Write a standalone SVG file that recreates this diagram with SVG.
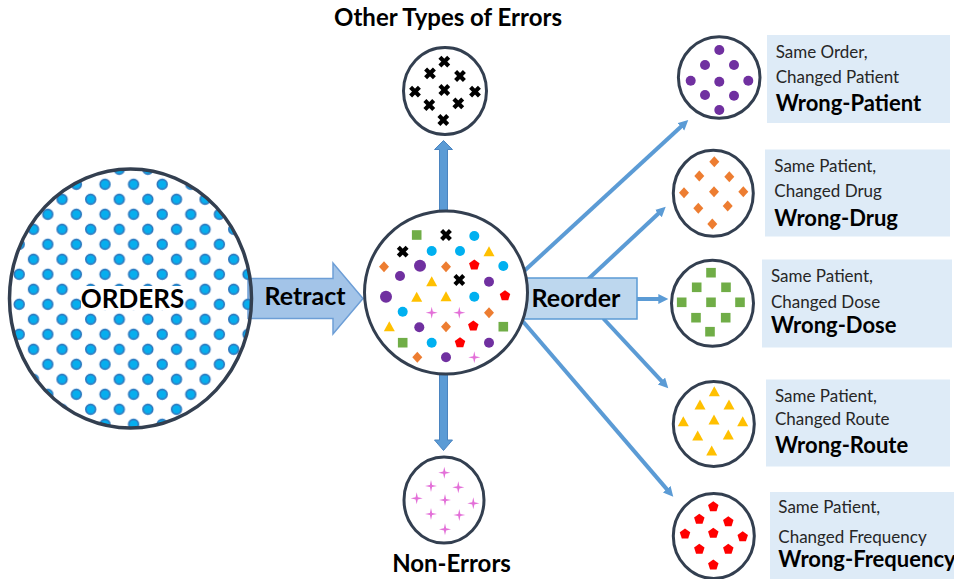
<svg xmlns="http://www.w3.org/2000/svg" xmlns:xlink="http://www.w3.org/1999/xlink" width="954" height="579" viewBox="0 0 954 579">
<style>
.ring{fill:#fff;stroke:#333F50;stroke-width:3}
.big{font-family:Lato,"Liberation Sans",sans-serif;font-weight:700;fill:#000}
.lab{font-family:Lato,"Liberation Sans",sans-serif;font-size:17px;fill:#262626}
.ttl{font-family:Lato,"Liberation Sans",sans-serif;font-weight:700;font-size:22px;fill:#000}
.box{fill:#DEEBF7}
.con{stroke:#5B9BD5;stroke-width:4;fill:none;marker-end:url(#ah)}
.fat{fill:#5B9BD5;stroke:#4A84C0;stroke-width:1}
</style>
<defs>
<pattern id="dots" patternUnits="userSpaceOnUse" x="97.85" y="176.8" width="28.6" height="30">
<circle cx="7.15" cy="7.5" r="4.9" fill="#06AEEE" stroke="#2E78BE" stroke-width="1.6"/>
<circle cx="21.45" cy="22.5" r="4.9" fill="#06AEEE" stroke="#2E78BE" stroke-width="1.6"/>
</pattern>
<marker id="ah" markerUnits="userSpaceOnUse" markerWidth="12" markerHeight="12" refX="3" refY="5" orient="auto">
<path d="M0,0 L10,5 L0,10 Z" fill="#5B9BD5"/>
</marker>
<path id="x" d="M-4.4,-4.4 L4.4,4.4 M4.4,-4.4 L-4.4,4.4" stroke="#000" stroke-width="4.2"/>
<path id="dm" d="M0,-5.5 L5,0 L0,5.5 L-5,0Z" fill="#ED7D31"/>
<path id="tr" d="M0,-5.5 L5.5,4.5 L-5.5,4.5Z" fill="#FFC000"/>
<rect id="sq" x="-4.8" y="-4.8" width="9.6" height="9.6" fill="#70AD47"/>
<path id="pg" d="M0,-5.5 L5.23,-1.7 L3.23,4.45 L-3.23,4.45 L-5.23,-1.7Z" fill="#FF0000"/>
<path id="st" d="M0,-6 L1.1,-1.1 L6,0 L1.1,1.1 L0,6 L-1.1,1.1 L-6,0 L-1.1,-1.1Z" fill="#E36FD8"/>
<circle id="c" r="5" fill="#00B0F0"/>
<circle id="p" r="5" fill="#7030A0"/>
<circle id="pL" r="6" fill="#7030A0"/>
</defs>
<rect width="954" height="579" fill="#fff"/>

<g id="connectors">
<line class="con" x1="521.7" y1="273.3" x2="683.1" y2="124.7"/>
<line class="con" x1="588.3" y1="279" x2="660.6" y2="211.5"/>
<line class="con" x1="636" y1="299" x2="661.3" y2="299"/>
<line class="con" x1="603.3" y1="318.5" x2="663.5" y2="383.2"/>
<line class="con" x1="521.7" y1="320" x2="668.7" y2="491.4"/>
<polygon class="fat" points="439.5,212 439.5,149.5 434.5,149.5 443.5,140.5 452.5,149.5 447.5,149.5 447.5,212"/>
<polygon class="fat" points="439.5,373 439.5,440 434.5,440 443.5,450.5 452.5,440 447.5,440 447.5,373"/>
</g>

<g id="retract">
<polygon points="248,278.5 333,278.5 333,263 363,298.5 333,334 333,318.5 248,318.5" fill="#A3C4E8" stroke="#6D9ED6" stroke-width="1.5"/>
<text class="big" x="305" y="305" font-size="25" text-anchor="middle">Retract</text>
</g>

<g id="reorder">
<rect x="515" y="278" width="122" height="41" fill="#BDD7EE" stroke="#5B9BD5" stroke-width="1.5"/>
<text class="big" x="576" y="307" font-size="25" text-anchor="middle">Reorder</text>
</g>

<g id="orders">
<ellipse cx="130.5" cy="298.5" rx="121" ry="129.5" fill="url(#dots)"/>
<rect x="81" y="286" width="102" height="24" fill="#fff"/>
<ellipse cx="130.5" cy="298.5" rx="121" ry="129.5" fill="none" stroke="#333F50" stroke-width="3.5"/>
<text class="big" x="132.5" y="308" font-size="26" text-anchor="middle">ORDERS</text>
</g>

<g id="mixed">
<circle class="ring" cx="446" cy="292.5" r="81.5"/>
<use href="#sq" x="416.7" y="235"/><use href="#x" x="446" y="235"/><use href="#c" x="474.3" y="236"/>
<use href="#x" x="402.7" y="251.7"/><use href="#c" x="431.7" y="251"/><use href="#c" x="460" y="251"/><use href="#tr" x="489" y="251.7"/>
<use href="#dm" x="384" y="266.7"/><use href="#pL" x="420" y="265.7"/><use href="#dm" x="446" y="266.7"/><use href="#pg" x="474.3" y="265"/><use href="#c" x="503.3" y="266"/>
<use href="#p" x="400" y="276"/><use href="#tr" x="431.7" y="281.7"/><use href="#x" x="459.3" y="280"/><use href="#p" x="489" y="281.7"/>
<use href="#pL" x="386" y="296.7"/><use href="#tr" x="416.7" y="297.3"/><use href="#tr" x="446" y="296.7"/><use href="#c" x="474.3" y="296.7"/><use href="#pg" x="505" y="295.7"/>
<use href="#c" x="402.7" y="311.7"/><use href="#st" x="431.7" y="312.7"/><use href="#st" x="459.3" y="312.7"/><use href="#dm" x="489" y="312.7"/>
<use href="#tr" x="389.3" y="326.7"/><use href="#p" x="419.3" y="327.3"/><use href="#dm" x="446" y="326.7"/><use href="#pg" x="473.3" y="326"/><use href="#sq" x="503.3" y="326.7"/>
<use href="#sq" x="402.7" y="342.7"/><use href="#c" x="431.7" y="342.7"/><use href="#pg" x="460" y="342.7"/><use href="#p" x="489" y="342.7"/>
<use href="#dm" x="417.3" y="357.3"/><use href="#p" x="446" y="357.3"/><use href="#st" x="474.3" y="357.3"/>
</g>

<g id="other-errors">
<text class="big" x="448" y="26" font-size="24" text-anchor="middle">Other Types of Errors</text>
<ellipse class="ring" cx="445" cy="91" rx="41.5" ry="43.5"/>
<use href="#x" x="444.3" y="61.7"/><use href="#x" x="430" y="73.3"/><use href="#x" x="460" y="76"/>
<use href="#x" x="415" y="91.7"/><use href="#x" x="444.3" y="90"/><use href="#x" x="475" y="91.7"/>
<use href="#x" x="429.3" y="105"/><use href="#x" x="458.3" y="103.3"/><use href="#x" x="443.3" y="120"/>
</g>

<g id="non-errors">
<ellipse class="ring" cx="444" cy="500" rx="40" ry="43"/>
<use href="#st" x="444.3" y="472.7"/><use href="#st" x="431" y="486"/><use href="#st" x="458.3" y="487.3"/>
<use href="#st" x="416.7" y="498.3"/><use href="#st" x="445" y="500"/><use href="#st" x="473.3" y="503.3"/>
<use href="#st" x="431" y="514"/><use href="#st" x="459.3" y="515"/><use href="#st" x="445" y="529.3"/>
<text class="big" x="451.5" y="572" font-size="24" text-anchor="middle">Non-Errors</text>
</g>

<g id="wrong-patient">
<circle class="ring" cx="719.2" cy="77.5" r="40.8"/>
<use href="#p" x="719.3" y="50"/><use href="#p" x="705" y="65"/><use href="#p" x="734" y="65"/>
<use href="#p" x="690.7" y="80.7"/><use href="#p" x="719.3" y="81.7"/><use href="#p" x="748.3" y="80.7"/>
<use href="#p" x="705" y="95"/><use href="#p" x="734" y="95.7"/><use href="#p" x="719.3" y="110"/>
<rect class="box" x="767" y="35" width="183" height="88"/>
<text class="lab" x="775.7" y="58.3">Same Order,</text>
<text class="lab" x="775.7" y="83.3">Changed Patient</text>
<text class="ttl" x="775.7" y="110.7">Wrong-Patient</text>
</g>

<g id="wrong-drug">
<ellipse class="ring" cx="713.3" cy="193.3" rx="40" ry="43"/>
<use href="#dm" x="714.3" y="161.7"/><use href="#dm" x="699.3" y="176"/><use href="#dm" x="729.3" y="176.7"/>
<use href="#dm" x="684" y="192.7"/><use href="#dm" x="714" y="191.7"/><use href="#dm" x="743.3" y="191.7"/>
<use href="#dm" x="698.3" y="208.3"/><use href="#dm" x="727.7" y="206"/><use href="#dm" x="712.3" y="224"/>
<rect class="box" x="765" y="149.5" width="185" height="87"/>
<text class="lab" x="774.3" y="171.7">Same Patient,</text>
<text class="lab" x="774.3" y="196.7">Changed Drug</text>
<text class="ttl" x="774.3" y="226">Wrong-Drug</text>
</g>

<g id="wrong-dose">
<ellipse class="ring" cx="712.5" cy="303.3" rx="41" ry="43"/>
<use href="#sq" x="711" y="272.7"/><use href="#sq" x="696.7" y="287.3"/><use href="#sq" x="726" y="287.3"/>
<use href="#sq" x="681.7" y="302.3"/><use href="#sq" x="711" y="302.3"/><use href="#sq" x="740" y="302.3"/>
<use href="#sq" x="696" y="317.7"/><use href="#sq" x="725.7" y="317.7"/><use href="#sq" x="710" y="331.7"/>
<rect class="box" x="762" y="259.5" width="190" height="88"/>
<text class="lab" x="771" y="281.7">Same Patient,</text>
<text class="lab" x="771" y="308.3">Changed Dose</text>
<text class="ttl" x="771" y="333.3">Wrong-Dose</text>
</g>

<g id="wrong-route">
<ellipse class="ring" cx="713.8" cy="424" rx="40.5" ry="42.5"/>
<use href="#tr" x="714.3" y="391.7"/><use href="#tr" x="700" y="405"/><use href="#tr" x="729" y="405"/>
<use href="#tr" x="683.3" y="421.7"/><use href="#tr" x="714" y="420"/><use href="#tr" x="742.7" y="421.7"/>
<use href="#tr" x="697.7" y="436"/><use href="#tr" x="728.3" y="435"/><use href="#tr" x="711.7" y="451"/>
<rect class="box" x="766" y="379.5" width="184" height="87"/>
<text class="lab" x="775" y="401.7">Same Patient,</text>
<text class="lab" x="775" y="425">Changed Route</text>
<text class="ttl" x="775" y="453.3">Wrong-Route</text>
</g>

<g id="wrong-frequency">
<ellipse class="ring" cx="713.8" cy="536" rx="40.5" ry="42.5"/>
<use href="#pg" x="713.3" y="506.7"/><use href="#pg" x="699.3" y="519.3"/><use href="#pg" x="728.3" y="521.7"/>
<use href="#pg" x="685" y="534"/><use href="#pg" x="713.3" y="533.3"/><use href="#pg" x="742.7" y="536.7"/>
<use href="#pg" x="699.3" y="549.3"/><use href="#pg" x="728.3" y="549.3"/><use href="#pg" x="713.3" y="565"/>
<rect class="box" x="770" y="492" width="184" height="87"/>
<text class="lab" x="778.3" y="513.3">Same Patient,</text>
<text class="lab" x="778.3" y="542.7">Changed Frequency</text>
<text class="ttl" x="778.3" y="567.3">Wrong-Frequency</text>
</g>
</svg>
